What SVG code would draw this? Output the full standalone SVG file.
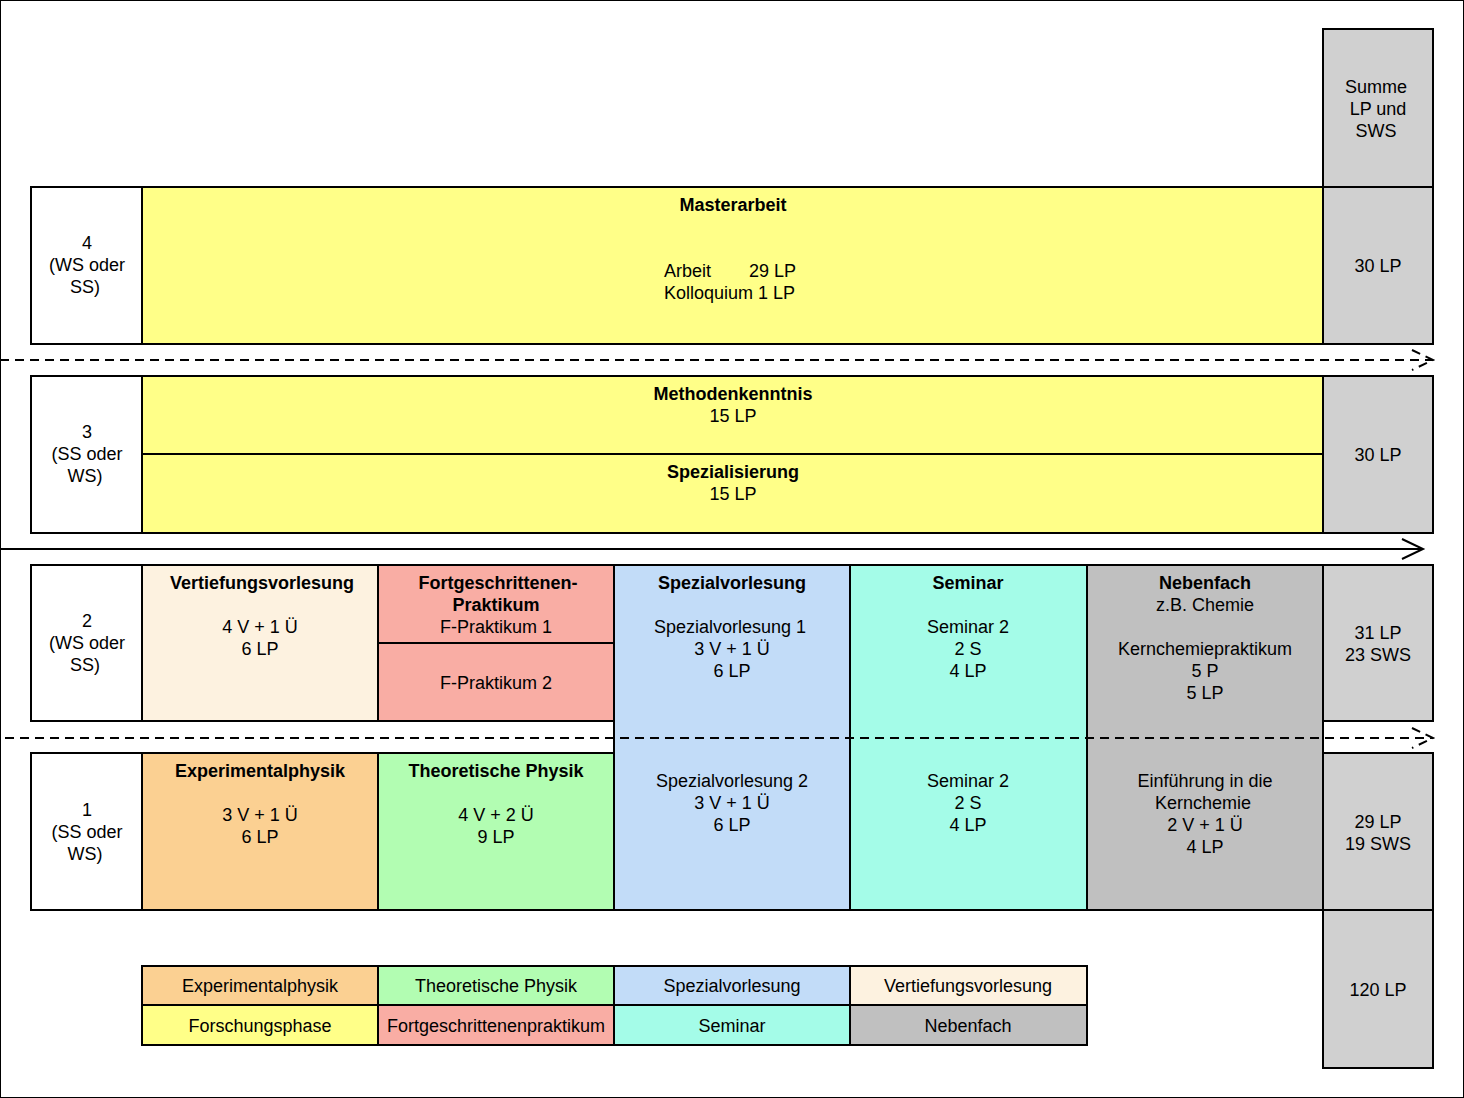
<svg xmlns="http://www.w3.org/2000/svg" width="1464" height="1098" viewBox="0 0 1464 1098">
<style>
rect{stroke:#000;stroke-width:2}
text{font-family:"Liberation Sans",Arial,sans-serif;font-size:18px;text-anchor:middle;fill:#000}
.b{font-weight:bold}
.d{stroke:#000;stroke-width:2;stroke-dasharray:9,6;fill:none}
.y{fill:#FFFF88}.w{fill:#fff}.g{fill:#D0D0D0}.vt{fill:#FDF2E0}.fp{fill:#F9ADA4}.sp{fill:#C2DCF8}.se{fill:#A4FCE8}.nf{fill:#C0C0C0}.ex{fill:#FBD092}.th{fill:#B2FDB2}
</style>
<rect width="1464" height="1098" fill="#fff" stroke="none"/>
<g id="sum">
<rect class="g" x="1323" y="29" width="110" height="158"/><text x="1376" y="93">Summe</text><text x="1378" y="115">LP und</text><text x="1376" y="137">SWS</text>
<rect class="g" x="1323" y="187" width="110" height="157"/><text x="1378" y="272">30 LP</text>
<rect class="g" x="1323" y="376" width="110" height="157"/><text x="1378" y="461">30 LP</text>
<rect class="g" x="1323" y="565" width="110" height="156"/><text x="1378" y="639">31 LP</text><text x="1378" y="661">23 SWS</text>
<rect class="g" x="1323" y="753" width="110" height="157"/><text x="1378" y="828">29 LP</text><text x="1378" y="850">19 SWS</text>
<rect class="g" x="1323" y="910" width="110" height="158"/><text x="1378" y="996">120 LP</text>
</g>
<g id="sem4"><rect class="w" x="31" y="187" width="111" height="157"/><text x="87" y="249">4</text><text x="87" y="271">(WS oder</text><text x="85" y="293">SS)</text></g>
<g id="master"><rect class="y" x="142" y="187" width="1181" height="157"/><text class="b" x="733" y="211">Masterarbeit</text>
<text x="664" y="277" style="text-anchor:start">Arbeit</text><text x="749" y="277" style="text-anchor:start">29 LP</text><text x="664" y="299" style="text-anchor:start">Kolloquium 1 LP</text></g>
<g id="sem3"><rect class="w" x="31" y="376" width="111" height="157"/><text x="87" y="438">3</text><text x="87" y="460">(SS oder</text><text x="85" y="482">WS)</text></g>
<g id="meth"><rect class="y" x="142" y="376" width="1181" height="78"/><text class="b" x="733" y="400">Methodenkenntnis</text><text x="733" y="422">15 LP</text></g>
<g id="spez"><rect class="y" x="142" y="454" width="1181" height="79"/><text class="b" x="733" y="478">Spezialisierung</text><text x="733" y="500">15 LP</text></g>
<g id="sem2"><rect class="w" x="31" y="565" width="111" height="156"/><text x="87" y="627">2</text><text x="87" y="649">(WS oder</text><text x="85" y="671">SS)</text></g>
<g id="sem1"><rect class="w" x="31" y="753" width="111" height="157"/><text x="87" y="816">1</text><text x="87" y="838">(SS oder</text><text x="85" y="860">WS)</text></g>
<g id="vert"><rect class="vt" x="142" y="565" width="236" height="156"/><text class="b" x="262" y="589">Vertiefungsvorlesung</text><text x="260" y="633">4 V + 1 Ü</text><text x="260" y="655">6 LP</text></g>
<g id="fp1"><rect class="fp" x="378" y="565" width="236" height="78"/><text class="b" x="498" y="589">Fortgeschrittenen-</text><text class="b" x="496" y="611">Praktikum</text><text x="496" y="633">F-Praktikum 1</text></g>
<g id="fp2"><rect class="fp" x="378" y="643" width="236" height="78"/><text x="496" y="689">F-Praktikum 2</text></g>
<g id="exp"><rect class="ex" x="142" y="753" width="236" height="157"/><text class="b" x="260" y="777">Experimentalphysik</text><text x="260" y="821">3 V + 1 Ü</text><text x="260" y="843">6 LP</text></g>
<g id="theo"><rect class="th" x="378" y="753" width="236" height="157"/><text class="b" x="496" y="777">Theoretische Physik</text><text x="496" y="821">4 V + 2 Ü</text><text x="496" y="843">9 LP</text></g>
<g id="spezv"><rect class="sp" x="614" y="565" width="236" height="345"/><text class="b" x="732" y="589">Spezialvorlesung</text><text x="730" y="633">Spezialvorlesung 1</text><text x="732" y="655">3 V + 1 Ü</text><text x="732" y="677">6 LP</text>
<text x="732" y="787">Spezialvorlesung 2</text><text x="732" y="809">3 V + 1 Ü</text><text x="732" y="831">6 LP</text></g>
<g id="semi"><rect class="se" x="850" y="565" width="237" height="345"/><text class="b" x="968" y="589">Seminar</text><text x="968" y="633">Seminar 2</text><text x="968" y="655">2 S</text><text x="968" y="677">4 LP</text>
<text x="968" y="787">Seminar 2</text><text x="968" y="809">2 S</text><text x="968" y="831">4 LP</text></g>
<g id="neben"><rect class="nf" x="1087" y="565" width="236" height="345"/><text class="b" x="1205" y="589">Nebenfach</text><text x="1205" y="611">z.B. Chemie</text><text x="1205" y="655">Kernchemiepraktikum</text><text x="1205" y="677">5 P</text><text x="1205" y="699">5 LP</text>
<text x="1205" y="787">Einführung in die</text><text x="1203" y="809">Kernchemie</text><text x="1205" y="831">2 V + 1 Ü</text><text x="1205" y="853">4 LP</text></g>
<g id="connectors">
<path class="d" d="M0 360H1433M1412 350L1433 360L1412 370"/>
<path class="d" d="M0 549H1423M1402 539L1423 549L1402 559" style="stroke-dasharray:none"/>
<path class="d" d="M0 549H1423"/>
<path class="d" d="M5 738H1433M1412 728L1433 738L1412 748" />
</g>
<g id="legend">
<rect class="ex" x="142" y="966" width="236" height="39"/><text x="260" y="992">Experimentalphysik</text>
<rect class="th" x="378" y="966" width="236" height="39"/><text x="496" y="992">Theoretische Physik</text>
<rect class="sp" x="614" y="966" width="236" height="39"/><text x="732" y="992">Spezialvorlesung</text>
<rect class="vt" x="850" y="966" width="237" height="39"/><text x="968" y="992">Vertiefungsvorlesung</text>
<rect class="y" x="142" y="1005" width="236" height="40"/><text x="260" y="1032">Forschungsphase</text>
<rect class="fp" x="378" y="1005" width="236" height="40"/><text x="496" y="1032">Fortgeschrittenenpraktikum</text>
<rect class="se" x="614" y="1005" width="236" height="40"/><text x="732" y="1032">Seminar</text>
<rect class="nf" x="850" y="1005" width="237" height="40"/><text x="968" y="1032">Nebenfach</text>
</g>
</svg>
